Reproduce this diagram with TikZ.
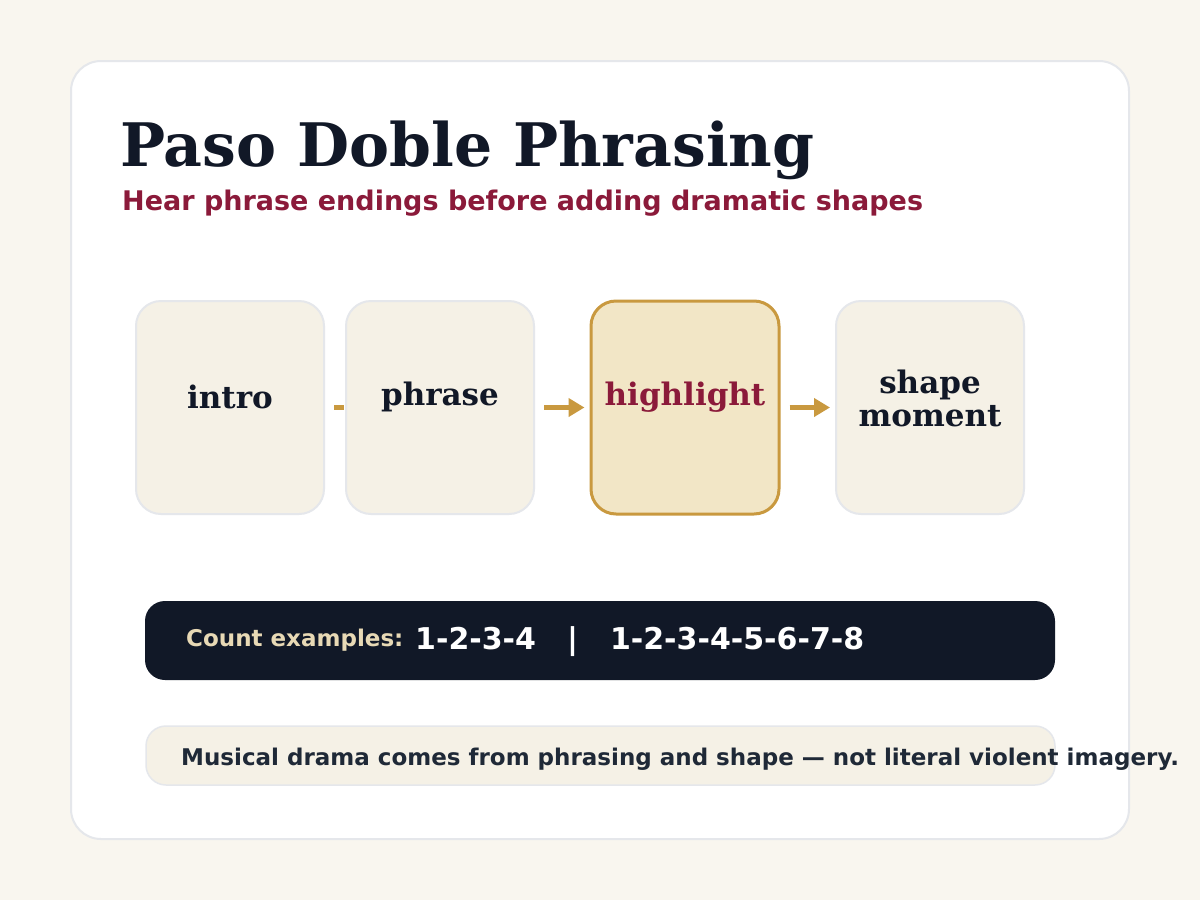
\documentclass[tikz,border=0pt]{standalone}
\usepackage{fontspec}
\setmainfont{DejaVu Serif}
\setsansfont{DejaVu Sans}
\usetikzlibrary{arrows.meta}
\definecolor{pagebg}{HTML}{F9F6EF}
\definecolor{cardline}{HTML}{E5E7EB}
\definecolor{ink}{HTML}{111827}
\definecolor{wine}{HTML}{8B1A3A}
\definecolor{cream}{HTML}{F5F1E6}
\definecolor{goldfill}{HTML}{F2E6C6}
\definecolor{gold}{HTML}{C9993F}
\definecolor{beige}{HTML}{E8D9B5}
\definecolor{footink}{HTML}{1F2937}
\tikzset{
  stepbox/.style={draw=cardline, line width=2pt, fill=cream, rounded corners=25pt,
    minimum width=188pt, minimum height=213pt, inner sep=0pt},
  hibox/.style={stepbox, draw=gold, line width=3pt, fill=goldfill},
  boxlabel/.style={font=\bfseries\fontsize{31}{36}\selectfont, text=ink, anchor=base, inner sep=0pt},
  conn/.style={draw=gold, line width=5pt},
  connarrow/.style={conn, -{Triangle[length=16pt,width=18pt]}},
}
\begin{document}
\begin{tikzpicture}[x=1pt,y=-1pt]
\useasboundingbox (0,0) rectangle (1200,900);
\fill[pagebg] (0,0) rectangle (1200,900);
\draw[cardline, line width=2pt, fill=white, rounded corners=30pt] (71,61) rectangle (1129,839);
\node[anchor=base west, inner sep=0pt, text=ink, font=\bfseries\fontsize{60}{70}\selectfont] (title) at (120,166) {Paso Doble Phrasing};
\node[anchor=base west, inner sep=0pt, text=wine, font=\sffamily\bfseries\fontsize{27}{31}\selectfont] (subtitle) at (122,210) {Hear phrase endings before adding dramatic shapes};
% boxes
\node[stepbox] (intro) at (230,407.5) {};
\node[stepbox] (phrase) at (440,407.5) {};
\node[hibox] (high) at (685,407.5) {};
\node[stepbox] (shape) at (930,407.5) {};
% connectors
\draw[conn] ([xshift=9pt]intro.east) -- ([xshift=-1pt]phrase.west);
\draw[connarrow] ([xshift=9pt]phrase.east) -- ([xshift=-5pt]high.west);
\draw[connarrow] ([xshift=9pt]high.east) -- ([xshift=-5pt]shape.west);
% labels
\node[boxlabel] (introT) at (230,408) {intro};
\node[boxlabel] (phraseT) at (440,405) {phrase};
\node[boxlabel, text=wine] (highT) at (685,405) {highlight};
\node[boxlabel] (shapeT) at (930,393) {shape};
\node[boxlabel] (shapeT2) at (930,426) {moment};
% count bar
\node[fill=ink, rounded corners=20pt, minimum width=910pt, minimum height=79pt, inner sep=0pt] (count) at (600,640.5) {};
\node[anchor=base west, inner sep=0pt, text=beige, font=\sffamily\bfseries\fontsize{23}{27}\selectfont] (countL) at (186,646) {Count examples:};
\node[anchor=base west, inner sep=0pt, text=white, font=\sffamily\bfseries\fontsize{30}{34}\selectfont] (countV) at (415,649) {1-2-3-4\hspace{31pt}|\hspace{32pt}1-2-3-4-5-6-7-8};
% footer
\node[draw=cardline, line width=1.5pt, fill=cream, rounded corners=20pt, minimum width=909pt, minimum height=59pt, inner sep=0pt] (foot) at (600.5,755.5) {};
\node[anchor=base west, inner sep=0pt, text=footink, font=\sffamily\bfseries\fontsize{23}{27}\selectfont] (footT) at (181,765) {Musical drama comes from phrasing and shape — not literal violent imagery.};
\end{tikzpicture}
\end{document}
